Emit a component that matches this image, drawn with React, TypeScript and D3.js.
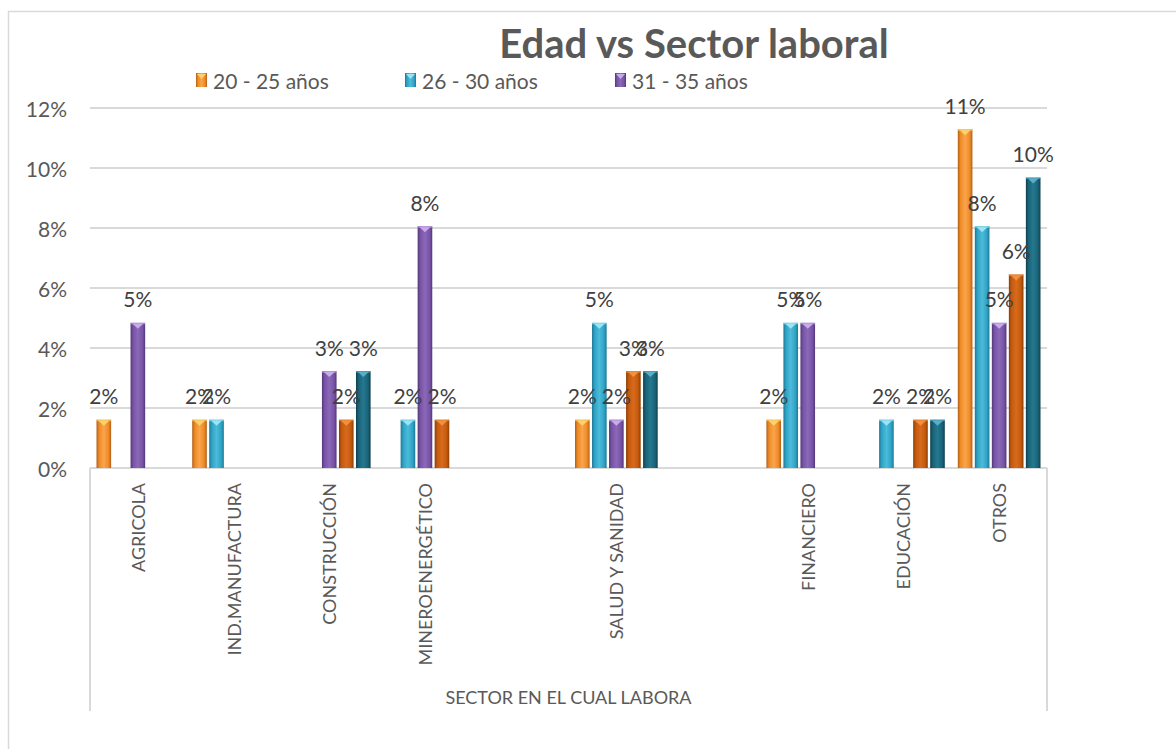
import React from "react";
import * as d3 from "d3";

const categories = [
  "AGRICOLA",
  "IND.MANUFACTURA",
  "CONSTRUCCIÓN",
  "MINEROENERGÉTICO",
  "",
  "SALUD Y SANIDAD",
  "",
  "FINANCIERO",
  "EDUCACIÓN",
  "OTROS",
];

const seriesNames = ["20 - 25 años", "26 - 30 años", "31 - 35 años", "36 - 40 años", "41 años o más"];
const legendShown = [0, 1, 2];

const s1 = [0.0161, 0.0161, 0, 0, 0, 0.0161, 0, 0.0161, 0, 0.1129];
const s2 = [0, 0.0161, 0, 0.0161, 0, 0.0484, 0, 0.0484, 0.0161, 0.0806];
const s3 = [0.0484, 0, 0.0323, 0.0806, 0, 0.0161, 0, 0.0484, 0, 0.0484];
const s4 = [0, 0, 0.0161, 0.0161, 0, 0.0323, 0, 0, 0.0161, 0.0645];
const s5 = [0, 0, 0.0323, 0, 0, 0.0323, 0, 0, 0.0161, 0.0968];
const seriesValues = [s1, s2, s3, s4, s5];

const yTicks = [0, 0.02, 0.04, 0.06, 0.08, 0.1, 0.12];

const palette = [
  { base: "#EF8A24", light: "#F9A54E", dark: "#B0601A", tip: "#FCD36A" },
  { base: "#2FA3C6", light: "#4DBBDA", dark: "#1D7894", tip: "#9BE4F2" },
  { base: "#7853A6", light: "#8B68B8", dark: "#523879", tip: "#C9AAEA" },
  { base: "#C45A0E", light: "#D86A1C", dark: "#8C3E06", tip: "#F2903E" },
  { base: "#1A6378", light: "#24788F", dark: "#0E3F4E", tip: "#58AFC6" },
];

const FONT = "Lato, 'Open Sans', sans-serif";
const TXT = "#595959";

export default function App() {
  const W = 1176;
  const H = 749;
  const left = 90;
  const right = 1047;
  const y0 = 468;
  const yTop = 108;

  const x = d3
    .scaleBand<number>()
    .domain(categories.map((_, i) => i))
    .range([left, right])
    .paddingInner(0)
    .paddingOuter(0);

  const xs = d3
    .scaleBand<number>()
    .domain(seriesValues.map((_, i) => i))
    .range([0, x.bandwidth()])
    .paddingInner(0.141)
    .paddingOuter(0.382);

  const y = d3.scaleLinear().domain([0, 0.12]).range([y0, yTop]);
  const fmt = d3.format(".0%");
  const bw = xs.bandwidth();

  const legendX = [196, 405, 615];

  return (
    <svg
      width={W}
      height={H}
      style={{ position: "absolute", left: 0, top: 0, background: "#fff" }}
      fontFamily={FONT}
    >
      <defs>
        {palette.map((p, i) => (
          <linearGradient key={i} id={`g${i}`} x1="0" y1="0" x2="1" y2="0">
            <stop offset="0" stopColor={p.dark} />
            <stop offset="0.18" stopColor={p.base} />
            <stop offset="0.5" stopColor={p.light} />
            <stop offset="0.82" stopColor={p.base} />
            <stop offset="1" stopColor={p.dark} />
          </linearGradient>
        ))}
      </defs>
      <rect x={0} y={0} width={W} height={H} fill="#fff" />
      {/* chart border (top and left visible) */}
      <rect x={8.5} y={11.5} width={1300} height={900} fill="none" stroke="#D9D9D9" strokeWidth={1.5} />

      {/* title */}
      <text x={694} y={58} textAnchor="middle" fontSize={40} fontWeight={700} fill={TXT}>
        Edad vs Sector laboral
      </text>

      {/* legend */}
      {legendShown.map((si, k) => {
        const p = palette[si];
        const mx = legendX[k];
        return (
          <g key={si}>
            <rect x={mx} y={73} width={11} height={14} fill={`url(#g${si})`} />
            <path d={`M${mx + 1},${74} L${mx + 10},${74} L${mx + 5.5},${79} Z`} fill={p.tip} />
            <text x={mx + 17} y={80} dominantBaseline="central" fontSize={21} fill={TXT}>
              {seriesNames[si]}
            </text>
          </g>
        );
      })}

      {/* gridlines and y labels */}
      {yTicks.map((t) => (
        <g key={t}>
          <line x1={left} x2={right} y1={y(t)} y2={y(t)} stroke="#D9D9D9" strokeWidth={2} />
          <text x={67} y={y(t)} textAnchor="end" dominantBaseline="central" fontSize={21} fill={TXT}>
            {fmt(t)}
          </text>
        </g>
      ))}

      {/* category axis outer lines */}
      <line x1={left} x2={left} y1={y0} y2={711} stroke="#D9D9D9" strokeWidth={2} />
      <line x1={right} x2={right} y1={y0} y2={711} stroke="#D9D9D9" strokeWidth={2} />

      {/* bars */}
      {categories.map((c, ci) =>
        seriesValues.map((vals, si) => {
          const v = vals[ci];
          if (!v) return null;
          const bx = (x(ci) as number) + (xs(si) as number);
          const by = y(v);
          const p = palette[si];
          return (
            <g key={`${ci}-${si}`}>
              <rect x={bx} y={by} width={bw} height={y0 - by} fill={`url(#g${si})`} />
              <rect x={bx} y={by} width={bw} height={1.5} fill={p.tip} opacity={0.7} />
              <path
                d={`M${bx + 2},${by + 1} L${bx + bw - 2},${by + 1} L${bx + bw / 2},${by + 6} Z`}
                fill={p.tip}
              />
            </g>
          );
        })
      )}

      {/* data labels */}
      {categories.map((c, ci) =>
        seriesValues.map((vals, si) => {
          const v = vals[ci];
          if (!v) return null;
          const cx = (x(ci) as number) + (xs(si) as number) + bw / 2;
          return (
            <text
              key={`l${ci}-${si}`}
              x={cx}
              y={y(v) - 24}
              textAnchor="middle"
              dominantBaseline="central"
              fontSize={21}
              fill="#404040"
            >
              {fmt(v)}
            </text>
          );
        })
      )}

      {/* category labels */}
      {categories.map((c, ci) => {
        if (!c) return null;
        const cx = (x(ci) as number) + x.bandwidth() / 2;
        return (
          <text
            key={`c${ci}`}
            transform={`translate(${cx},483) rotate(-90)`}
            textAnchor="end"
            dominantBaseline="central"
            fontSize={18}
            fill={TXT}
          >
            {c}
          </text>
        );
      })}

      {/* axis title */}
      <text x={(left + right) / 2} y={697} textAnchor="middle" dominantBaseline="central" fontSize={18} fill={TXT}>
        SECTOR EN EL CUAL LABORA
      </text>
    </svg>
  );
}
